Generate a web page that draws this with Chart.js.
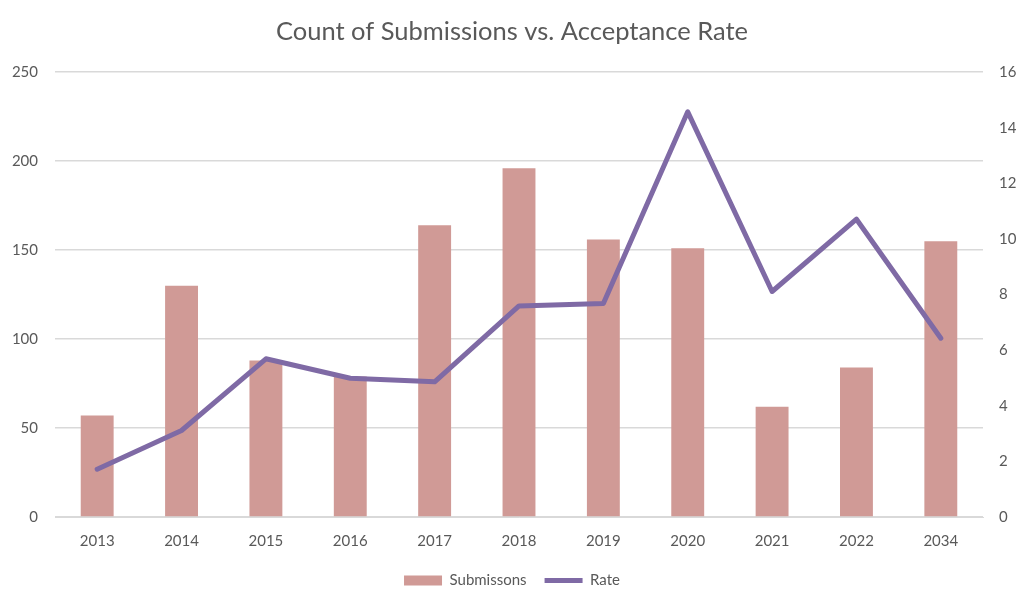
<!DOCTYPE html>
<html>
<head>
<meta charset="utf-8">
<script src="https://cdn.jsdelivr.net/npm/chart.js@4"></script>
<style>
  body { margin: 0; background: #fff; }
  #wrap { width: 1024px; height: 598px; }
</style>
</head>
<body>
<div id="wrap"><canvas id="chart" width="1024" height="598"></canvas></div>
<script>
// ====================== DATA ======================
const years = ['2013', '2014', '2015', '2016', '2017', '2018', '2019', '2020', '2021', '2022', '2034'];
const submissions = [57, 130, 88, 79, 164, 196, 156, 151, 62, 84, 155];
const rate = [1.72, 3.11, 5.69, 4.99, 4.86, 7.59, 7.68, 14.57, 8.11, 10.71, 6.43];

const leftTicks = { min: 0, max: 250, step: 50 };
const rightTicks = { min: 0, max: 16, step: 2 };

// ====================== STYLE ======================
const FONT = 'Lato, "Open Sans", sans-serif';
const TEXT = '#595959';
const GRID = '#d9d9d9';
const BAR = '#d09a96';
const LINE = '#7f6aa5';

Chart.defaults.font.family = FONT;
Chart.defaults.color = TEXT;

const ctx = document.getElementById('chart');

new Chart(ctx, {
  data: {
    labels: years,
    datasets: [
      {
        type: 'line',
        label: 'Rate',
        data: rate,
        yAxisID: 'yRate',
        borderColor: LINE,
        backgroundColor: LINE,
        borderWidth: 5,
        borderCapStyle: 'round',
        borderJoinStyle: 'round',
        pointRadius: 0,
        tension: 0,
        order: 1
      },
      {
        type: 'bar',
        label: 'Submissons',
        data: submissions,
        yAxisID: 'ySub',
        backgroundColor: BAR,
        barPercentage: 0.39,
        categoryPercentage: 1,
        order: 2
      }
    ]
  },
  options: {
    responsive: false,
    animation: false,
    layout: { padding: { left: 0, right: 0, top: 0, bottom: 0 } },
    scales: {
      x: {
        grid: { display: false },
        border: { display: true, color: GRID, width: 1 },
        ticks: { font: { size: 15 }, color: TEXT, padding: 7 },
        afterFit: s => { s.height = 38; }
      },
      ySub: {
        position: 'left',
        min: leftTicks.min,
        max: leftTicks.max,
        ticks: { stepSize: leftTicks.step, font: { size: 15 }, color: TEXT, padding: 17 },
        grid: { color: GRID, lineWidth: 1.5, drawTicks: false },
        border: { display: false },
        afterFit: s => { s.width = 55; }
      },
      yRate: {
        position: 'right',
        min: rightTicks.min,
        max: rightTicks.max,
        ticks: { stepSize: rightTicks.step, font: { size: 15 }, color: TEXT, padding: 16 },
        grid: { display: false, drawTicks: false },
        border: { display: false },
        afterFit: s => { s.width = 41; }
      }
    },
    plugins: {
      title: {
        display: true,
        text: 'Count of Submissions vs. Acceptance Rate',
        color: TEXT,
        font: { size: 25.5, weight: 'normal' },
        padding: { top: 16, bottom: 25.5 }
      },
      legend: {
        position: 'bottom',
        reverse: true,
        labels: {
          usePointStyle: true,
          pointStyleWidth: 38,
          boxHeight: 10,
          font: { size: 15 },
          color: TEXT,
          padding: 18,
          generateLabels: chart => {
            const items = Chart.defaults.plugins.legend.labels.generateLabels(chart);
            items.forEach(it => {
              const ds = chart.data.datasets[it.datasetIndex];
              it.pointStyle = ds.type === 'line' ? 'line' : 'rect';
              if (ds.type === 'bar') { it.lineWidth = 0; it.strokeStyle = BAR; }
            });
            return items;
          }
        }
      },
      tooltip: { enabled: false }
    }
  }
});
</script>
</body>
</html>
